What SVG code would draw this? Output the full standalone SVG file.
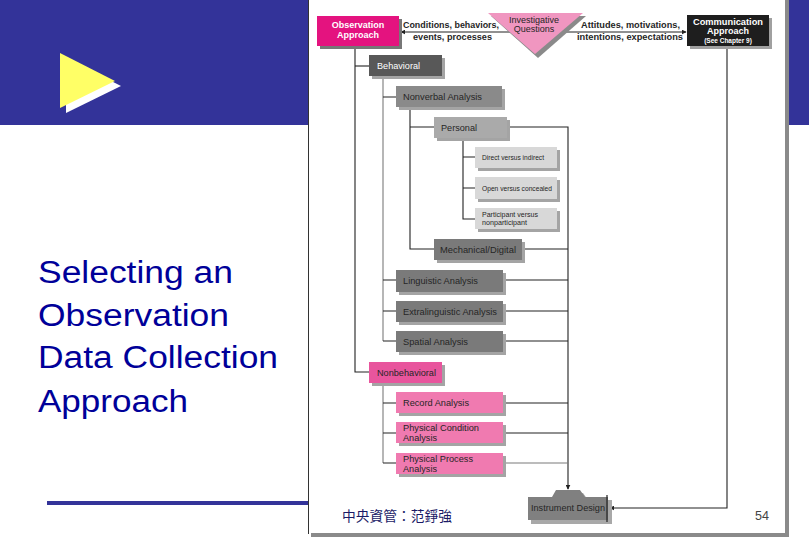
<svg xmlns="http://www.w3.org/2000/svg" width="809" height="539" viewBox="0 0 809 539">
<defs>
<style>
.lbl{font-family:"Liberation Sans",Arial,sans-serif;font-size:9px;fill:#262626}
.bold{font-weight:bold}
.wht{fill:#ffffff}
.sm{font-size:7px}
.sh{fill:#a4a4a4}
.cn{stroke:#222;stroke-width:1.1;fill:none}
.cg{stroke:#7a7a7a;stroke-width:1.1;fill:none}
.title{font-family:"Liberation Sans",Arial,sans-serif;font-size:31px;fill:#000099}
</style>
<marker id="ah" viewBox="0 0 8 8" refX="7" refY="4" markerWidth="5" markerHeight="5" orient="auto" markerUnits="userSpaceOnUse">
<path d="M0,0 L8,4 L0,8 Z" fill="#222"/>
</marker>
</defs>

<!-- slide background -->
<rect x="0" y="0" width="809" height="539" fill="#ffffff"/>
<rect x="0" y="0" width="809" height="125" fill="#333399"/>
<polygon points="66,58 66,113 121,86" fill="#ffffff"/>
<polygon points="60,53 60,108 115,81" fill="#ffff66"/>
<text class="title" x="38" y="283" textLength="195" lengthAdjust="spacingAndGlyphs">Selecting an</text>
<text class="title" x="38" y="326" textLength="191" lengthAdjust="spacingAndGlyphs">Observation</text>
<text class="title" x="38" y="368" textLength="240" lengthAdjust="spacingAndGlyphs">Data Collection</text>
<text class="title" x="38" y="412" textLength="150" lengthAdjust="spacingAndGlyphs">Approach</text>
<rect x="47" y="501" width="262" height="4" fill="#333399"/>

<!-- picture frame -->
<rect x="311" y="0" width="478" height="537" fill="#8a8a8a"/>
<rect x="308" y="0" width="477" height="533" fill="#ffffff"/>
<line x1="308.5" y1="0" x2="308.5" y2="534" stroke="#333" stroke-width="1"/>

<!-- connectors -->
<g id="connectors">
<path class="cn" d="M510,32 H401" marker-end="url(#ah)"/>
<path class="cn" d="M561,32 H686" marker-end="url(#ah)"/>
<path class="cn" d="M355,46 V372 H369"/>
<path class="cn" d="M355,66 H369"/>
<path class="cg" d="M383,76 V341"/>
<path class="cn" d="M383,97 H396 M383,280 H396 M383,311 H396 M383,341 H396"/>
<path class="cn" d="M410,107 V249 H434 M410,127 H434"/>
<path class="cn" d="M463,138 V219 H475 M463,157 H475 M463,188 H475"/>
<path class="cg" d="M383,383 V463"/>
<path class="cn" d="M383,403 H396 M383,433 H396 M383,463 H396"/>
<path class="cn" d="M507,127 H568 V489" marker-end="url(#ah)"/>
<path class="cn" d="M522,249 H568 M503,280 H568 M503,311 H568 M503,341 H568 M503,403 H568 M503,433 H568"/>
<path class="cg" d="M503,463 H568"/>
<path class="cn" d="M727,46 V508 H610" marker-end="url(#ah)"/>
</g>

<!-- top labels -->
<g id="label-left">
<text class="lbl bold" x="403" y="28" textLength="96" lengthAdjust="spacingAndGlyphs">Conditions, behaviors,</text>
<text class="lbl" x="413" y="40" textLength="79" lengthAdjust="spacingAndGlyphs" style="font-weight:bold">events, processes</text>
</g>
<g id="label-right">
<text class="lbl bold" x="581" y="28" textLength="99" lengthAdjust="spacingAndGlyphs">Attitudes, motivations,</text>
<text class="lbl bold" x="577" y="40" textLength="106" lengthAdjust="spacingAndGlyphs">intentions, expectations</text>
</g>

<!-- nodes -->
<g id="observation-approach">
<rect x="320" y="19" width="82" height="30" fill="#777"/>
<rect x="317" y="16" width="82" height="30" fill="#e4137f"/>
<text class="lbl bold wht" x="358" y="28" text-anchor="middle">Observation</text>
<text class="lbl bold wht" x="358" y="38" text-anchor="middle">Approach</text>
</g>
<g id="investigative-questions">
<polygon points="491,16 586,16 538,58" fill="#8a8a8a"/>
<polygon points="488,13 583,13 535,54" fill="#f096c0"/>
<text class="lbl" x="534" y="23" text-anchor="middle" fill="#444">Investigative</text>
<text class="lbl" x="534" y="32" text-anchor="middle" fill="#444">Questions</text>
</g>
<g id="communication-approach">
<rect x="690" y="18" width="82" height="31" fill="#a0a0a0"/>
<rect x="687" y="15" width="82" height="31" fill="#1e1e1e"/>
<text class="lbl bold wht" x="728" y="25" text-anchor="middle" textLength="70" lengthAdjust="spacingAndGlyphs">Communication</text>
<text class="lbl bold wht" x="728" y="34" text-anchor="middle">Approach</text>
<text class="lbl bold wht" x="728" y="43" text-anchor="middle" style="font-size:6.5px">(See Chapter 9)</text>
</g>
<g id="behavioral">
<rect class="sh" x="372" y="58" width="73" height="21"/>
<rect x="369" y="55" width="73" height="21" fill="#585858"/>
<text class="lbl wht" x="377" y="69" textLength="43" lengthAdjust="spacingAndGlyphs">Behavioral</text>
</g>
<g id="nonverbal-analysis">
<rect class="sh" x="399" y="89" width="106" height="21"/>
<rect x="396" y="86" width="106" height="21" fill="#8a8a8a"/>
<text class="lbl" x="403" y="100" textLength="79" lengthAdjust="spacingAndGlyphs">Nonverbal Analysis</text>
</g>
<g id="personal">
<rect class="sh" x="437" y="120" width="73" height="21"/>
<rect x="434" y="117" width="73" height="21" fill="#aaaaaa"/>
<text class="lbl" x="441" y="131" textLength="36" lengthAdjust="spacingAndGlyphs">Personal</text>
</g>
<g id="direct-versus-indirect">
<rect class="sh" x="478" y="150" width="82" height="21"/>
<rect x="475" y="147" width="82" height="21" fill="#d8d8d8"/>
<text class="lbl sm" x="482" y="160" textLength="62" lengthAdjust="spacingAndGlyphs">Direct versus indirect</text>
</g>
<g id="open-versus-concealed">
<rect class="sh" x="478" y="180" width="82" height="22"/>
<rect x="475" y="177" width="82" height="22" fill="#d8d8d8"/>
<text class="lbl sm" x="482" y="191" textLength="70" lengthAdjust="spacingAndGlyphs">Open versus concealed</text>
</g>
<g id="participant-versus-nonparticipant">
<rect class="sh" x="478" y="211" width="82" height="21"/>
<rect x="475" y="208" width="82" height="21" fill="#d8d8d8"/>
<text class="lbl sm" x="482" y="217" textLength="56" lengthAdjust="spacingAndGlyphs">Participant versus</text>
<text class="lbl sm" x="482" y="225" textLength="45" lengthAdjust="spacingAndGlyphs">nonparticipant</text>
</g>
<g id="mechanical-digital">
<rect class="sh" x="437" y="242" width="88" height="21"/>
<rect x="434" y="239" width="88" height="21" fill="#7a7a7a"/>
<text class="lbl" x="440" y="253" textLength="76" lengthAdjust="spacingAndGlyphs">Mechanical/Digital</text>
</g>
<g id="linguistic-analysis">
<rect class="sh" x="399" y="273" width="107" height="22"/>
<rect x="396" y="270" width="107" height="22" fill="#7a7a7a"/>
<text class="lbl" x="403" y="284" textLength="75" lengthAdjust="spacingAndGlyphs">Linguistic Analysis</text>
</g>
<g id="extralinguistic-analysis">
<rect class="sh" x="399" y="304" width="107" height="21"/>
<rect x="396" y="301" width="107" height="21" fill="#7a7a7a"/>
<text class="lbl" x="403" y="315" textLength="94" lengthAdjust="spacingAndGlyphs">Extralinguistic Analysis</text>
</g>
<g id="spatial-analysis">
<rect class="sh" x="399" y="334" width="107" height="21"/>
<rect x="396" y="331" width="107" height="21" fill="#7a7a7a"/>
<text class="lbl" x="403" y="345" textLength="65" lengthAdjust="spacingAndGlyphs">Spatial Analysis</text>
</g>
<g id="nonbehavioral">
<rect class="sh" x="372" y="365" width="73" height="21"/>
<rect x="369" y="362" width="73" height="21" fill="#e8559d"/>
<text class="lbl" x="377" y="376" textLength="59" lengthAdjust="spacingAndGlyphs">Nonbehavioral</text>
</g>
<g id="record-analysis">
<rect class="sh" x="399" y="395" width="107" height="21"/>
<rect x="396" y="392" width="107" height="21" fill="#f07ab0"/>
<text class="lbl" x="403" y="406" textLength="66" lengthAdjust="spacingAndGlyphs">Record Analysis</text>
</g>
<g id="physical-condition-analysis">
<rect class="sh" x="399" y="425" width="107" height="21"/>
<rect x="396" y="422" width="107" height="21" fill="#f07ab0"/>
<text class="lbl" x="403" y="431" textLength="76" lengthAdjust="spacingAndGlyphs">Physical Condition</text>
<text class="lbl" x="403" y="441" textLength="34" lengthAdjust="spacingAndGlyphs">Analysis</text>
</g>
<g id="physical-process-analysis">
<rect class="sh" x="399" y="456" width="107" height="21"/>
<rect x="396" y="453" width="107" height="21" fill="#f07ab0"/>
<text class="lbl" x="403" y="462" textLength="70" lengthAdjust="spacingAndGlyphs">Physical Process</text>
<text class="lbl" x="403" y="472" textLength="34" lengthAdjust="spacingAndGlyphs">Analysis</text>
</g>
<g id="instrument-design">
<path d="M531,500 H556 L560,493 H583 L588,500 H612 V524 H531 Z" fill="#a8a8a8"/>
<path d="M528,497 H552 L556,490 H580 L585,497 H608 V520 H528 Z" fill="#808080"/>
<line x1="607" y1="495" x2="607" y2="522" stroke="#222" stroke-width="1.2"/>
<text class="lbl" x="531" y="511" textLength="74" lengthAdjust="spacingAndGlyphs">Instrument Design</text>
</g>

<!-- footer -->
<text x="342" y="521" font-family="'Liberation Sans','Noto Sans CJK TC',sans-serif" font-size="14" fill="#1a1a66" textLength="110" lengthAdjust="spacingAndGlyphs">中央資管：范錚強</text>
<text x="755" y="520" font-family="'Liberation Sans',Arial,sans-serif" font-size="13" fill="#444" textLength="14" lengthAdjust="spacingAndGlyphs">54</text>
</svg>
